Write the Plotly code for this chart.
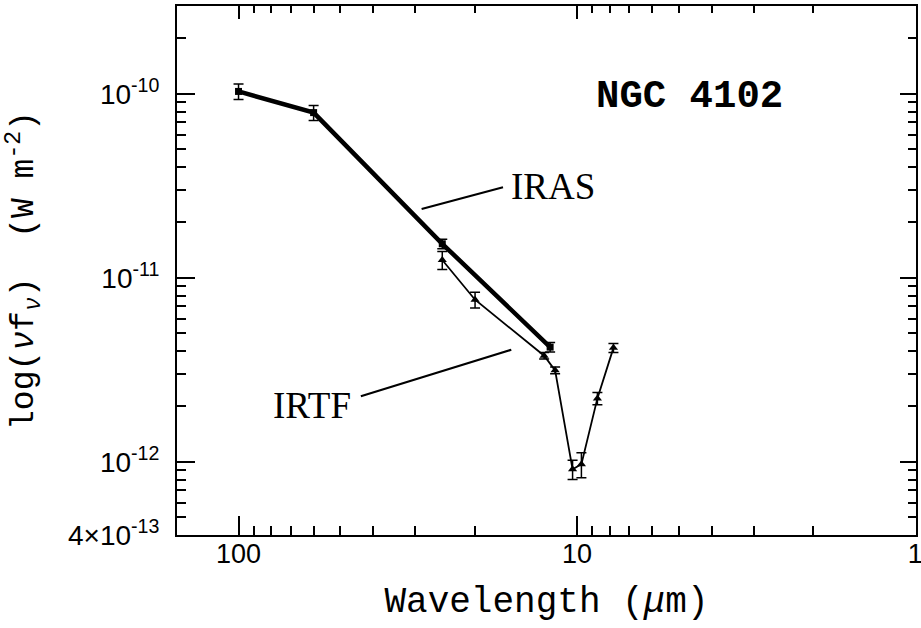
import math
import plotly.graph_objects as go

# ---- data ----
iras_wave = [100, 60, 25, 12]                       # micron
iras_flux = [1.03e-10, 7.9e-11, 1.53e-11, 4.2e-12]   # W m^-2
iras_err = [0.10e-10, 0.75e-11, 0.09e-11, 0.25e-12]

irtf_wave = [25, 20, 12.5, 11.6, 10.3, 9.7, 8.7, 7.8]
irtf_flux = [1.25e-11, 7.6e-12, 3.77e-12, 3.14e-12, 9.1e-13, 9.7e-13, 2.21e-12, 4.16e-12]
irtf_err = [1.4e-12, 7.5e-13, 1.5e-13, 1.3e-13, 1.1e-13, 1.5e-13, 1.7e-13, 2.3e-13]

x_tick_vals = [100, 10, 1]
x_tick_text = ["100", "10", "1"]
y_tick_vals = [4e-13, 1e-12, 1e-11, 1e-10]
y_tick_text = ["4×10<sup>-13</sup>", "10<sup>-12</sup>", "10<sup>-11</sup>", "10<sup>-10</sup>"]

x_range = [math.log10(152), -0.002]          # reversed wavelength axis
y_range = [math.log10(4e-13), math.log10(3e-10)]

x_minor = [m * d for d in (1, 10) for m in range(2, 10)]
y_minor = [m * d for d in (1e-13, 1e-12, 1e-11, 1e-10) for m in range(2, 10)
           if 4e-13 < m * d < 3e-10]

# label / leader positions (log10 units of the axes)
label_iras = dict(text="IRAS", x=1.072, y=-10.506)
label_irtf = dict(text="IRTF", x=1.784, y=-11.695)
leader_iras = dict(x=1.459, y=-10.626, ax=1.214, ay=-10.506)
leader_irtf = dict(x=1.194, y=-11.391, ax=1.643, ay=-11.646)

MONO = "Liberation Mono"
SANS = "Liberation Sans"
SERIF = "Liberation Serif"

fig = go.Figure()

fig.add_trace(go.Scatter(
    x=irtf_wave, y=irtf_flux, mode="lines+markers",
    line=dict(color="black", width=1.8),
    marker=dict(symbol="triangle-up", size=8, color="black"),
    error_y=dict(type="data", array=irtf_err, symmetric=True,
                 thickness=1.5, width=5, color="black"),
    showlegend=False,
))
fig.add_trace(go.Scatter(
    x=iras_wave, y=iras_flux, mode="lines+markers",
    line=dict(color="black", width=4.5),
    marker=dict(symbol="square", size=7, color="black"),
    error_y=dict(type="data", array=iras_err, symmetric=True,
                 thickness=1.5, width=5, color="black"),
    showlegend=False,
))
# invisible trace that carries the mirrored (top / right) tick axes
fig.add_trace(go.Scatter(
    x=iras_wave, y=iras_flux, mode="none", xaxis="x2", yaxis="y2",
    hoverinfo="skip", showlegend=False,
))

axis_common = dict(showgrid=False, zeroline=False, color="black", automargin=False)
tick_common = dict(ticks="inside", tickwidth=1.5, tickcolor="black")

fig.update_layout(
    width=921, height=628,
    margin=dict(l=177, r=5, t=6, b=93, pad=0, autoexpand=False),
    plot_bgcolor="white", paper_bgcolor="white",
    xaxis=dict(
        type="log", range=x_range,
        tickmode="array", tickvals=x_tick_vals, ticktext=x_tick_text,
        ticklen=19, **tick_common,
        minor=dict(tickmode="array", tickvals=x_minor, ticklen=9, **tick_common),
        showline=True, linewidth=2, linecolor="black", mirror=True,
        tickfont=dict(family=SANS, size=27, color="black"),
        ticklabelstandoff=-6, ticklabeloverflow="allow",
        title=dict(text="Wavelength (<i>μ</i>m)",
                   font=dict(family=MONO, size=36, color="black"), standoff=18),
        **axis_common,
    ),
    xaxis2=dict(
        type="log", range=x_range, overlaying="x", side="top", anchor="y2",
        tickmode="array", tickvals=x_tick_vals, showticklabels=False,
        ticklen=13, **tick_common,
        minor=dict(tickmode="array", tickvals=x_minor, ticklen=7, **tick_common),
        showline=False,
        **axis_common,
    ),
    yaxis=dict(
        type="log", range=y_range,
        tickmode="array", tickvals=y_tick_vals, ticktext=y_tick_text,
        ticklen=18, **tick_common,
        minor=dict(tickmode="array", tickvals=y_minor, ticklen=9, **tick_common),
        showline=True, linewidth=2, linecolor="black", mirror=True,
        tickfont=dict(family=SANS, size=28, color="black"),
        ticklabelstandoff=10, ticklabeloverflow="allow",
        title=dict(text="log(<i>ν</i>f<sub><i>ν</i></sub>)\u00a0\u00a0(W m<sup>-2</sup>)",
                   font=dict(family=MONO, size=33, color="black"), standoff=24),
        **axis_common,
    ),
    yaxis2=dict(
        type="log", range=y_range, overlaying="y", side="right", anchor="x2",
        tickmode="array", tickvals=y_tick_vals, showticklabels=False,
        ticklen=16, **tick_common,
        minor=dict(tickmode="array", tickvals=y_minor, ticklen=8, **tick_common),
        showline=False,
        **axis_common,
    ),
)

annotations = [
    dict(text="<b>NGC 4102</b>", xref="paper", yref="paper", x=0.693, y=0.828,
         showarrow=False, font=dict(family=MONO, size=39, color="black"),
         xanchor="center", yanchor="middle"),
]
for lab in (label_iras, label_irtf):
    annotations.append(dict(text=lab["text"], x=lab["x"], y=lab["y"], xref="x", yref="y",
                            showarrow=False, xanchor="center", yanchor="middle",
                            font=dict(family=SERIF, size=37, color="black")))
for ld in (leader_iras, leader_irtf):
    annotations.append(dict(text="", x=ld["x"], y=ld["y"], ax=ld["ax"], ay=ld["ay"],
                            xref="x", yref="y", axref="x", ayref="y",
                            showarrow=True, arrowhead=0, arrowwidth=2.2,
                            arrowcolor="black", font=dict(size=1)))
fig.update_layout(annotations=annotations)

# remove the browser's default 8px page margin so the figure sits at (0, 0)
fig.write_html("out.html", config={"displayModeBar": False},
               post_script="document.body.style.margin='0';document.body.style.overflow='hidden';")
